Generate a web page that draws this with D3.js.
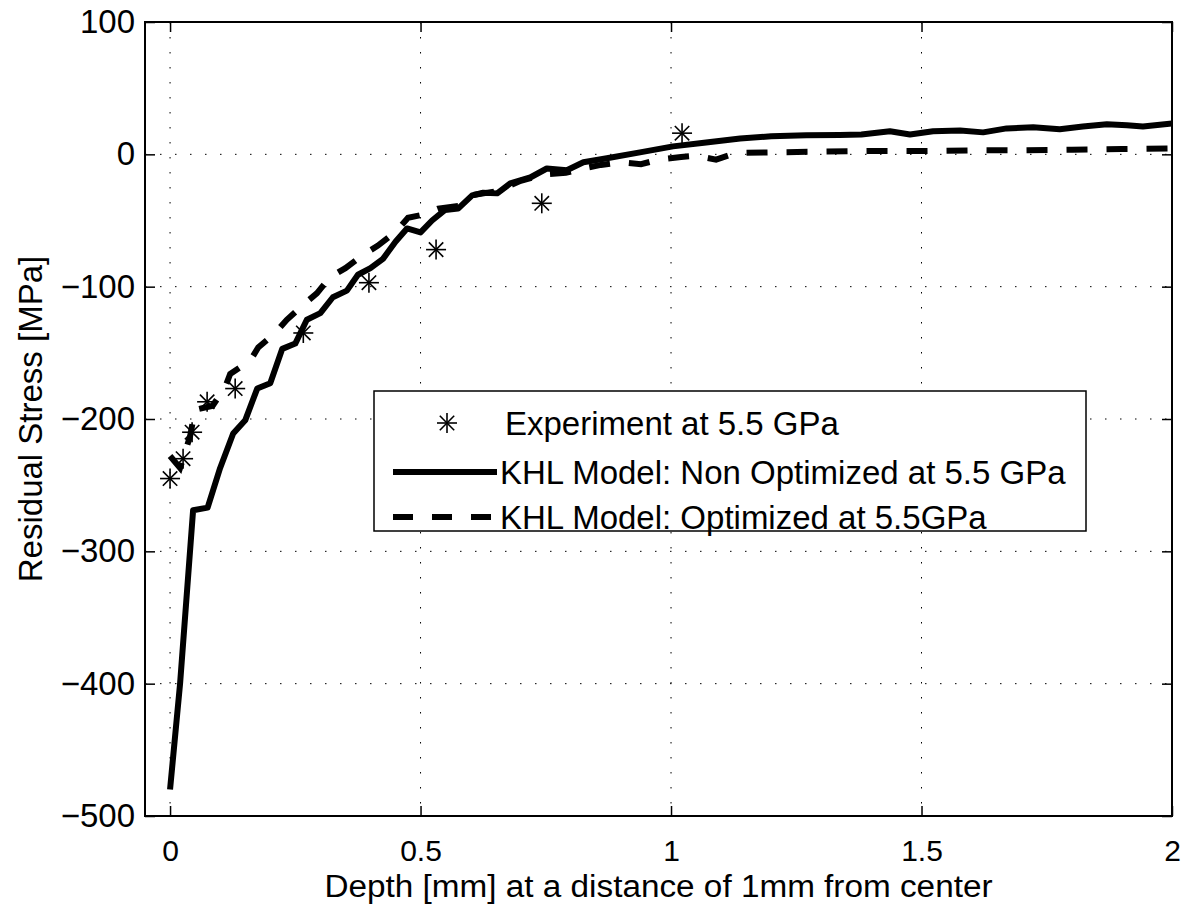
<!DOCTYPE html>
<html>
<head>
<meta charset="utf-8">
<script src="https://cdn.jsdelivr.net/npm/d3@7"></script>
<style>
  html, body { margin: 0; padding: 0; background: #fff; }
  svg { display: block; font-family: "Liberation Sans", Arial, Helvetica, sans-serif; }
</style>
</head>
<body>
<svg id="chart" width="1191" height="909"></svg>
<script>
// ---- Data ----
const xTicks = [0, 0.5, 1, 1.5, 2];
const xTickLabels = ["0", "0.5", "1", "1.5", "2"];
const yTicks = [-500, -400, -300, -200, -100, 0, 100];
const yTickLabels = ["\u2212500", "\u2212400", "\u2212300", "\u2212200", "\u2212100", "0", "100"];

const expX = [0, 0.026, 0.044, 0.074, 0.13, 0.266, 0.397, 0.531, 0.742, 1.022];
const expY = [-245, -230, -210, -187, -177, -135, -97, -72, -37, 16];

const nonOptX = [0, 0.02, 0.046, 0.075, 0.1, 0.126, 0.15, 0.174, 0.2, 0.224, 0.25, 0.273, 0.3, 0.325, 0.353, 0.375, 0.4, 0.425, 0.45, 0.473, 0.5, 0.523, 0.549, 0.575, 0.603, 0.625, 0.653, 0.679, 0.719, 0.752, 0.792, 0.825, 0.872, 0.938, 1.004, 1.07, 1.138, 1.2, 1.27, 1.337, 1.38, 1.437, 1.477, 1.523, 1.577, 1.623, 1.67, 1.723, 1.776, 1.822, 1.87, 1.91, 1.942, 2.0];
const nonOptY = [-480, -400, -269, -267, -237, -211, -201, -177, -173, -147, -143, -125, -120, -108, -103, -91, -86, -79, -66, -56, -59, -50, -42, -41, -31, -29, -29.5, -22, -17.5, -10.7, -12, -6, -3, 1.5, 6, 9, 12, 13.6, 14.4, 14.6, 15, 17.4, 15, 17.4, 18, 16.6, 19.6, 20.4, 19, 21, 22.7, 22, 21, 23.4];

const optX = [0, 0.02, 0.04, 0.05, 0.085, 0.11, 0.12, 0.16, 0.176, 0.21, 0.233, 0.265, 0.293, 0.319, 0.35, 0.385, 0.415, 0.449, 0.475, 0.5, 0.535, 0.575, 0.6, 0.65, 0.7, 0.75, 0.79, 0.82, 0.86, 0.9, 0.94, 0.975, 1.02, 1.05, 1.09, 1.13, 1.2, 1.3, 1.4, 1.5, 1.6, 1.7, 1.8, 1.9, 2.0];
const optY = [-228, -237, -213, -193, -190, -176, -166, -156, -146, -135, -125, -114, -105, -93, -86, -76, -69, -59, -48, -46, -41, -39, -31, -28, -20, -15, -14, -11, -8, -6, -7.5, -4, -2, -1, -4, 1, 1.5, 2, 2.5, 2.5, 3, 3, 3.5, 4, 4.5];

const seriesNames = ["Experiment at 5.5 GPa", "KHL Model: Non Optimized at 5.5 GPa", "KHL Model: Optimized at 5.5GPa"];
const xLabel = "Depth [mm] at a distance of 1mm from center";
const yLabel = "Residual Stress [MPa]";

// ---- Layout ----
const L = 145, R = 1172, T = 22, B = 816;
const x = d3.scaleLinear().domain([-0.05, 2]).range([L, R]);
const y = d3.scaleLinear().domain([-500, 100]).range([B, T]);
const svg = d3.select("#chart");
const FONT = 33;

// grid
const grid = svg.append("g").attr("stroke", "#000").attr("stroke-width", 1).attr("stroke-dasharray", "1.5,13.5");
grid.selectAll(".gx").data(xTicks).join("line")
  .attr("x1", d => x(d)).attr("x2", d => x(d)).attr("y1", T).attr("y2", B);
grid.selectAll(".gy").data(yTicks).join("line")
  .attr("x1", L).attr("x2", R).attr("y1", d => y(d)).attr("y2", d => y(d));

// axes
const xAxis = d3.axisBottom(x).tickValues(xTicks).tickSizeInner(-10).tickSizeOuter(0).tickPadding(24)
  .tickFormat((d, i) => xTickLabels[i]);
const yAxis = d3.axisLeft(y).tickValues(yTicks).tickSizeInner(-10).tickSizeOuter(0).tickPadding(10)
  .tickFormat((d, i) => yTickLabels[i]);
const xTop = d3.axisTop(x).tickValues(xTicks).tickSizeInner(-10).tickSizeOuter(0).tickFormat("");
const yRight = d3.axisRight(y).tickValues(yTicks).tickSizeInner(-10).tickSizeOuter(0).tickFormat("");

function styleAxis(g, size) {
  g.select(".domain").remove();
  g.selectAll(".tick line").attr("stroke", "#000").attr("stroke-width", 1.5);
  g.selectAll(".tick text").attr("fill", "#000").style("font-size", size + "px").style("font-family", "inherit");
}
svg.append("g").attr("transform", `translate(0,${B})`).call(xAxis).call(styleAxis, 30);
svg.append("g").attr("transform", `translate(${L},0)`).call(yAxis).call(styleAxis, FONT);
svg.append("g").attr("transform", `translate(0,${T})`).call(xTop).call(styleAxis, FONT);
svg.append("g").attr("transform", `translate(${R},0)`).call(yRight).call(styleAxis, FONT);

// box
svg.append("rect").attr("x", L).attr("y", T).attr("width", R - L).attr("height", B - T)
  .attr("fill", "none").attr("stroke", "#000").attr("stroke-width", 2);

// lines
const clip = svg.append("defs").append("clipPath").attr("id", "clip")
  .append("rect").attr("x", L).attr("y", T).attr("width", R - L).attr("height", B - T);
const line = d3.line().x(d => x(d[0])).y(d => y(d[1]));
const plot = svg.append("g").attr("clip-path", "url(#clip)");
plot.append("path").datum(d3.zip(nonOptX, nonOptY)).attr("d", line)
  .attr("fill", "none").attr("stroke", "#000").attr("stroke-width", 6).attr("stroke-linejoin", "round");
plot.append("path").datum(d3.zip(optX, optY)).attr("d", line)
  .attr("fill", "none").attr("stroke", "#000").attr("stroke-width", 6).attr("stroke-dasharray", "21,19");

// asterisk marker
function asterisk(g, cx, cy, r) {
  const d = r * 0.72;
  const segs = [[-r, 0, r, 0], [0, -r, 0, r], [-d, -d, d, d], [-d, d, d, -d]];
  segs.forEach(s => g.append("line")
    .attr("x1", cx + s[0]).attr("y1", cy + s[1]).attr("x2", cx + s[2]).attr("y2", cy + s[3])
    .attr("stroke", "#000").attr("stroke-width", 1.6));
}
const markers = plot.append("g");
d3.zip(expX, expY).forEach(p => asterisk(markers, x(p[0]), y(p[1]), 10));

// legend
const lg = svg.append("g");
lg.append("rect").attr("x", 374).attr("y", 391).attr("width", 712).attr("height", 140)
  .attr("fill", "#fff").attr("stroke", "#000").attr("stroke-width", 1.5);
const rows = [423, 472, 517];
asterisk(lg, 447, rows[0], 10);
lg.append("line").attr("x1", 393).attr("x2", 497).attr("y1", rows[1]).attr("y2", rows[1])
  .attr("stroke", "#000").attr("stroke-width", 6);
lg.append("line").attr("x1", 393).attr("x2", 497).attr("y1", rows[2]).attr("y2", rows[2])
  .attr("stroke", "#000").attr("stroke-width", 6).attr("stroke-dasharray", "20,19");
lg.selectAll("text").data(seriesNames).join("text")
  .attr("x", (d, i) => i === 0 ? 505 : 500).attr("y", (d, i) => rows[i])
  .attr("dy", "0.35em").style("font-size", FONT + "px").text(d => d);

// axis labels
svg.append("text").attr("x", (L + R) / 2).attr("y", 897).attr("text-anchor", "middle")
  .attr("textLength", 668).attr("lengthAdjust", "spacingAndGlyphs")
  .style("font-size", "31px").text(xLabel);
svg.append("text").attr("transform", `translate(30,${(T + B) / 2}) rotate(-90)`).attr("text-anchor", "middle")
  .attr("dy", "0.35em").style("font-size", FONT + "px").text(yLabel);
</script>
</body>
</html>
